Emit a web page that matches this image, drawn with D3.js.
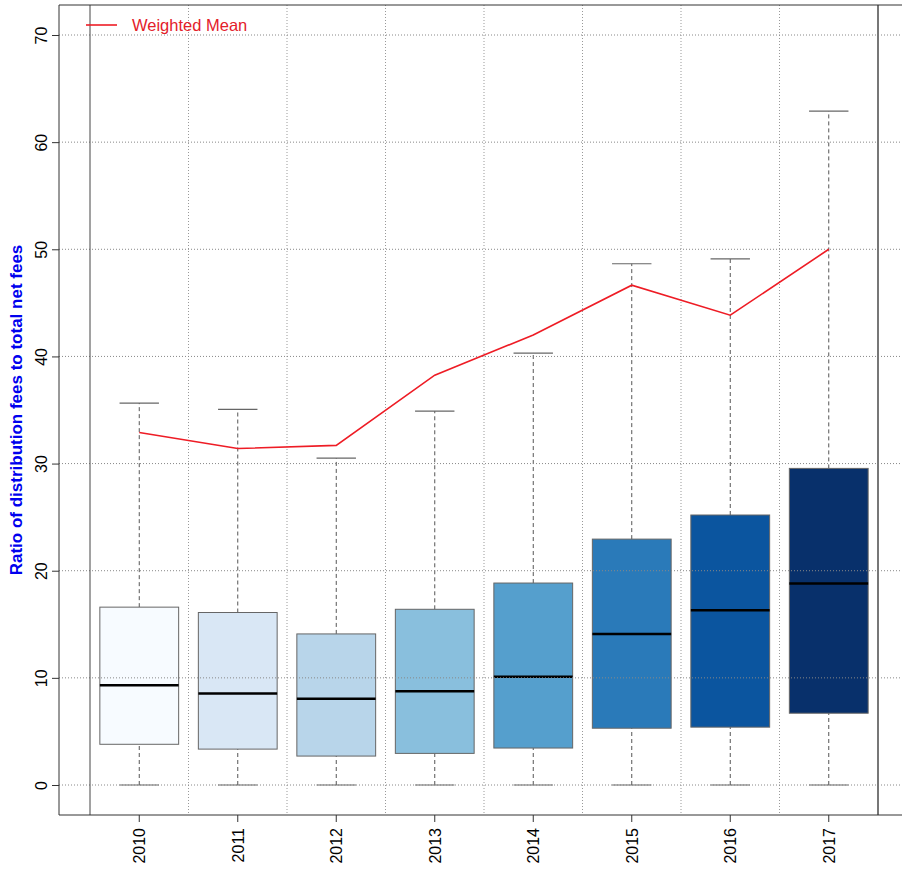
<!DOCTYPE html>
<html>
<head>
<meta charset="utf-8">
<script src="https://cdn.jsdelivr.net/npm/d3@7"></script>
<style>
  body { margin: 0; background: #fff; }
  svg { display: block; font-family: "Liberation Sans", Arial, sans-serif; }
</style>
</head>
<body>
<div id="chart"></div>
<script>
const years = ['2010', '2011', '2012', '2013', '2014', '2015', '2016', '2017'];
const mins = [0, 0, 0, 0, 0, 0, 0, 0];
const q1s = [3.8, 3.35, 2.7, 2.95, 3.45, 5.3, 5.4, 6.7];
const medians = [9.3, 8.55, 8.05, 8.75, 10.1, 14.1, 16.3, 18.8];
const q3s = [16.6, 16.1, 14.1, 16.4, 18.85, 22.95, 25.2, 29.55];
const maxs = [35.65, 35.05, 30.5, 34.9, 40.3, 48.65, 49.1, 62.9];
const weightedMean = [32.9, 31.4, 31.7, 38.25, 42.0, 46.65, 43.85, 50.0];
const yTicks = [0, 10, 20, 30, 40, 50, 60, 70];
const fills = ['#f7fbff', '#d9e7f5', '#b8d5ea', '#89bfdd', '#559fcd', '#2a7ab9', '#0b559f', '#08306b'];

const width = 902, height = 869;
const plot = { left: 59, top: 5, bottom: 815, right: 920 };

const svg = d3.select('#chart').append('svg')
  .attr('width', width).attr('height', height);

const x = d3.scaleBand().domain(years).range([90, 878]);
const y = d3.scaleLinear().domain([-2.8, 72.8]).range([plot.bottom, plot.top]);

const boxes = years.map((year, i) => ({
  year, min: mins[i], q1: q1s[i], med: medians[i], q3: q3s[i], max: maxs[i], fill: fills[i]
}));

// vertical grid between groups
svg.append('g').selectAll('line')
  .data(years.slice(1))
  .join('line')
  .attr('x1', (d) => x(d)).attr('x2', (d) => x(d))
  .attr('y1', plot.top).attr('y2', plot.bottom)
  .attr('stroke', '#999').attr('stroke-width', 1).attr('stroke-dasharray', '1,2');

const g = svg.append('g');
const cx = (d) => x(d.year) + x.bandwidth() / 2;
const boxW = x.bandwidth() * 0.8;
const capW = boxW / 2;

// whiskers
g.selectAll('.whisker-lo').data(boxes).join('line')
  .attr('x1', cx).attr('x2', cx)
  .attr('y1', (d) => y(d.min)).attr('y2', (d) => y(d.q1))
  .attr('stroke', '#555').attr('stroke-dasharray', '4,3');
g.selectAll('.whisker-hi').data(boxes).join('line')
  .attr('x1', cx).attr('x2', cx)
  .attr('y1', (d) => y(d.q3)).attr('y2', (d) => y(d.max))
  .attr('stroke', '#555').attr('stroke-dasharray', '4,3');

// caps
['min', 'max'].forEach((k) => {
  g.selectAll('.cap-' + k).data(boxes).join('line')
    .attr('x1', (d) => cx(d) - capW / 2).attr('x2', (d) => cx(d) + capW / 2)
    .attr('y1', (d) => y(d[k])).attr('y2', (d) => y(d[k]))
    .attr('stroke', '#666').attr('stroke-width', 1.2);
});

// boxes
g.selectAll('rect').data(boxes).join('rect')
  .attr('x', (d) => cx(d) - boxW / 2)
  .attr('width', boxW)
  .attr('y', (d) => y(d.q3))
  .attr('height', (d) => y(d.q1) - y(d.q3))
  .attr('fill', (d) => d.fill)
  .attr('stroke', '#666').attr('stroke-width', 1);

// medians
g.selectAll('.median').data(boxes).join('line')
  .attr('x1', (d) => cx(d) - boxW / 2).attr('x2', (d) => cx(d) + boxW / 2)
  .attr('y1', (d) => y(d.med)).attr('y2', (d) => y(d.med))
  .attr('stroke', '#000').attr('stroke-width', 2.5);

// horizontal grid on top
svg.append('g').selectAll('line')
  .data(yTicks)
  .join('line')
  .attr('x1', plot.left).attr('x2', plot.right)
  .attr('y1', (d) => y(d)).attr('y2', (d) => y(d))
  .attr('stroke', '#888').attr('stroke-width', 1).attr('stroke-dasharray', '1,2');

// solid verticals at group range ends
svg.append('g').selectAll('line')
  .data(x.range())
  .join('line')
  .attr('x1', (d) => d).attr('x2', (d) => d)
  .attr('y1', plot.top).attr('y2', plot.bottom)
  .attr('stroke', (d, i) => i === 0 ? '#444' : '#777')
  .attr('stroke-width', (d, i) => i === 0 ? 1 : 2);

// weighted mean line
const line = d3.line()
  .x((d, i) => x(years[i]) + x.bandwidth() / 2)
  .y((d) => y(d));
svg.append('path')
  .datum(weightedMean)
  .attr('d', line)
  .attr('fill', 'none').attr('stroke', '#ee1c25').attr('stroke-width', 1.6);

// frame
svg.append('path')
  .attr('d', `M${width},${plot.top}H${plot.left}V${plot.bottom}H${width}`)
  .attr('fill', 'none').attr('stroke', '#333').attr('stroke-width', 1);

// y axis
const yAxis = svg.append('g')
  .attr('transform', `translate(${plot.left},0)`)
  .call(d3.axisLeft(y).tickValues(yTicks).tickSize(7).tickFormat(d3.format('d')));
yAxis.select('.domain').remove();
yAxis.selectAll('.tick line').attr('stroke', '#333');
yAxis.selectAll('.tick text')
  .attr('font-size', 16).attr('fill', '#000')
  .attr('x', 0).attr('y', 0).attr('dx', 0).attr('dy', 0)
  .attr('text-anchor', 'middle')
  .attr('transform', 'translate(-12,0) rotate(-90)');

// x axis
const xAxis = svg.append('g')
  .attr('transform', `translate(0,${plot.bottom})`)
  .call(d3.axisBottom(x).tickSize(7));
xAxis.select('.domain').remove();
xAxis.selectAll('.tick line').attr('stroke', '#333');
xAxis.selectAll('.tick text')
  .attr('font-size', 16).attr('fill', '#000')
  .attr('x', 0).attr('y', 0).attr('dy', 0)
  .attr('text-anchor', 'end')
  .attr('transform', 'translate(6,13) rotate(-90)');

// y label
svg.append('text')
  .attr('transform', `translate(22,${(plot.top + plot.bottom) / 2}) rotate(-90)`)
  .attr('text-anchor', 'middle')
  .attr('font-size', 17).attr('font-weight', 'bold')
  .attr('fill', '#0000ee')
  .text('Ratio of distribution fees to total net fees');

// legend
const legend = svg.append('g');
legend.append('line')
  .attr('x1', 86).attr('x2', 117).attr('y1', 25).attr('y2', 25)
  .attr('stroke', '#ee1c25').attr('stroke-width', 1.6);
legend.append('text')
  .attr('x', 132).attr('y', 31)
  .attr('font-size', 16.5).attr('fill', '#e3202a')
  .text('Weighted Mean');
</script>
</body>
</html>
